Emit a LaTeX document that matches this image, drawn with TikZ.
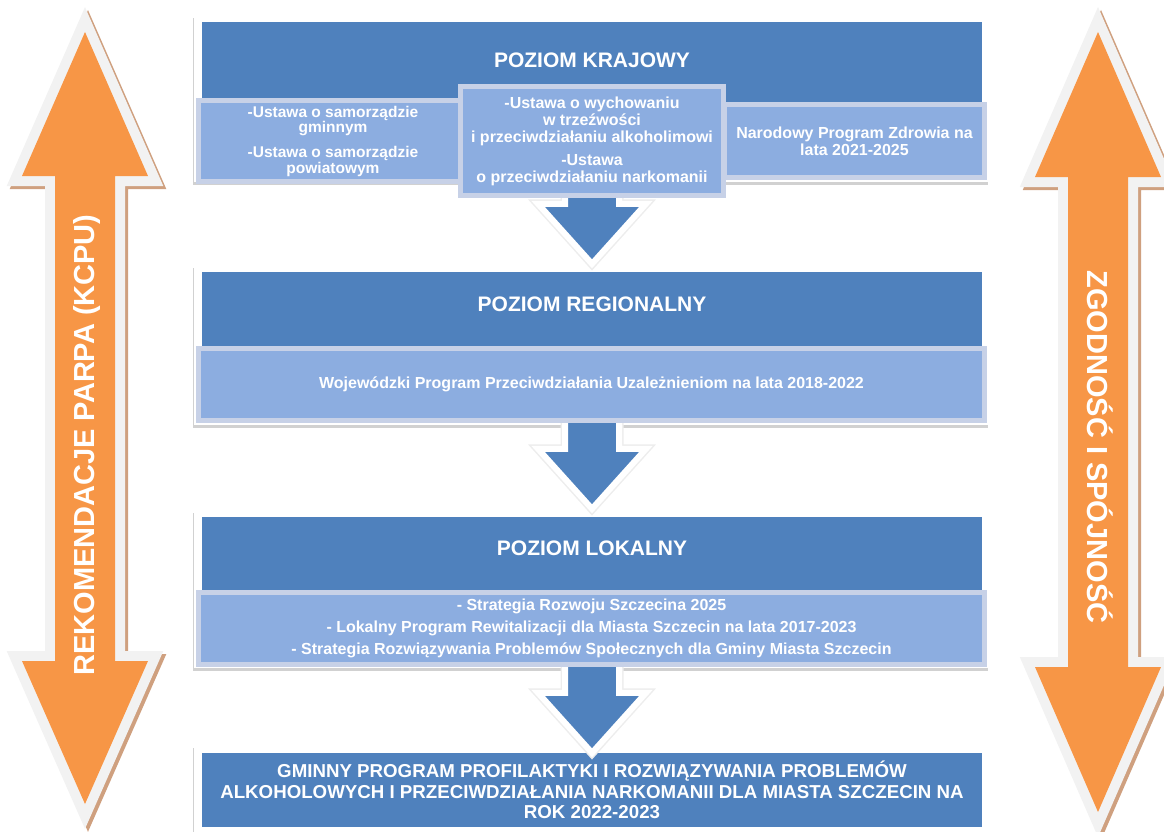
\documentclass[tikz,border=0pt]{standalone}
\usepackage{fontspec}
\setmainfont{Liberation Sans}
\usetikzlibrary{calc,shadows}
\definecolor{barblue}{HTML}{4F81BD}
\definecolor{subblue}{HTML}{8CADE0}
\definecolor{subedge}{HTML}{C7D1E7}
\definecolor{tangerine}{HTML}{F79646}
\definecolor{rim}{HTML}{F2F2F2}
\definecolor{umber}{HTML}{CFA07F}

% outline of a vertical double arrow: centre x, top tip, upper base, lower base, bottom tip
\newcommand\sidepath[5]{(#1,#2) -- (#1+63,#3) -- (#1+30,#3) -- (#1+30,#4) -- (#1+63,#4) -- (#1,#5)
  -- (#1-63,#4) -- (#1-30,#4) -- (#1-30,#3) -- (#1-63,#3) -- cycle}

\begin{document}
\begin{tikzpicture}[x=1pt,y=-1pt,
    levelframe/.style={fill=white,minimum width=795pt,inner sep=0pt,
      drop shadow={opacity=.3,shadow xshift=-1pt,shadow yshift=-3pt,fill=black!60}},
    levelbar/.style={fill=barblue,minimum width=780pt,inner sep=0pt,text=white,align=center},
    docbox/.style={fill=subblue,draw=subedge,line width=5pt,inner sep=0pt,text=white,
      align=center,font=\bfseries\fontsize{16}{17}\selectfont},
    leveltitle/.style={text=white,font=\bfseries\fontsize{21}{24}\selectfont},
    sidetext/.style={text=white,font=\bfseries\fontsize{29}{32}\selectfont},
    flowarrow/.style={fill=barblue,draw=white,line width=6pt,line join=miter,
      preaction={draw=black!7,line width=9pt}}]
  \useasboundingbox (0,0) rectangle (1164,831);
  \clip (0,0) rectangle (1164,831);

  % side arrows
  \foreach \cx/\ta/\ba/\bb/\tb in {85/32/176/661/804, 1098/32/177/667/812} {
    \draw[umber,line width=20pt,shift={(3,3)}] \sidepath{\cx}{\ta}{\ba}{\bb}{\tb};
    \draw[rim,line width=20pt] \sidepath{\cx}{\ta}{\ba}{\bb}{\tb};
    \fill[tangerine] \sidepath{\cx}{\ta}{\ba}{\bb}{\tb};
  }
  \node[sidetext,rotate=90] (leftlabel) at (87,445) {REKOMENDACJE PARPA (KCPU)};
  \node[sidetext,rotate=-90] (rightlabel) at (1100,447) {ZGODNOŚĆ I SPÓJNOŚĆ};

  % levels
  \node[levelframe,minimum height=167pt] (frameK) at (591.5,98.5) {};
  \node[levelframe,minimum height=160pt] (frameR) at (591.5,345) {};
  \node[levelframe,minimum height=158pt] (frameL) at (591.5,589) {};
  \node[levelframe,minimum height=100pt] (frameG) at (591.5,795) {};

  \node[levelbar,minimum height=80pt] (barK) at (592,62) {};
  \node[levelbar,minimum height=76pt] (barR) at (592,310) {};
  \node[levelbar,minimum height=76pt] (barL) at (592,555) {};
  \node[levelbar,minimum height=74pt,font=\bfseries\fontsize{18.7}{20.5}\selectfont] (barG) at (592,790)
    {GMINNY PROGRAM PROFILAKTYKI I ROZWIĄZYWANIA PROBLEMÓW\\
     ALKOHOLOWYCH I PRZECIWDZIAŁANIA NARKOMANII DLA MIASTA SZCZECIN NA\\
     ROK 2022-2023};

  % flow between levels
  \foreach \from/\to/\dy in {frameK/frameR/-1, frameR/frameL/-1, frameL/frameG/8} {
    \coordinate (tip) at ($(\to.north)+(0.5,\dy)$);
    \draw[flowarrow] let \p1=(tip), \p2=(\from.south) in
      (\x1,\y1) -- (\x1+54pt,\y1+60pt) -- (\x1+27pt,\y1+60pt) -- (\x1+27pt,\y2+15pt)
      -- (\x1-27pt,\y2+15pt) -- (\x1-27pt,\y1+60pt) -- (\x1-54pt,\y1+60pt) -- cycle;
  }

  % documents
  \node[docbox,minimum width=269pt,minimum height=81pt,font=\bfseries\fontsize{15.5}{15.5}\selectfont]
    (lawsK) at (333,141) {-Ustawa o samorządzie\\gminnym\\[9.5pt]-Ustawa o samorządzie\\powiatowym};
  \node[docbox,minimum width=260pt,minimum height=73pt] (healthK) at (854.5,141)
    {Narodowy Program Zdrowia na\\lata 2021-2025};
  \node[docbox,minimum width=263pt,minimum height=109pt] (actsK) at (592,141)
    {-Ustawa o wychowaniu\\w trzeźwości\\i przeciwdziałaniu alkoholimowi\\[6pt]-Ustawa\\o przeciwdziałaniu narkomanii};
  \node[docbox,minimum width=786pt,minimum height=72pt] (progR) at (591.5,384.5)
    {Wojewódzki Program Przeciwdziałania Uzależnieniom na lata 2018-2022};
  \node[docbox,minimum width=786pt,minimum height=72pt] (progL) at (591.5,628.5)
    {- Strategia Rozwoju Szczecina 2025\\[5pt]- Lokalny Program Rewitalizacji dla Miasta Szczecin na lata 2017-2023\\[5pt]- Strategia Rozwiązywania Problemów Społecznych dla Gminy Miasta Szczecin};

  \node[leveltitle] (titleK) at (592,60) {POZIOM KRAJOWY};
  \node[leveltitle] (titleR) at (592,304) {POZIOM REGIONALNY};
  \node[leveltitle] (titleL) at (592,548) {POZIOM LOKALNY};
\end{tikzpicture}
\end{document}
